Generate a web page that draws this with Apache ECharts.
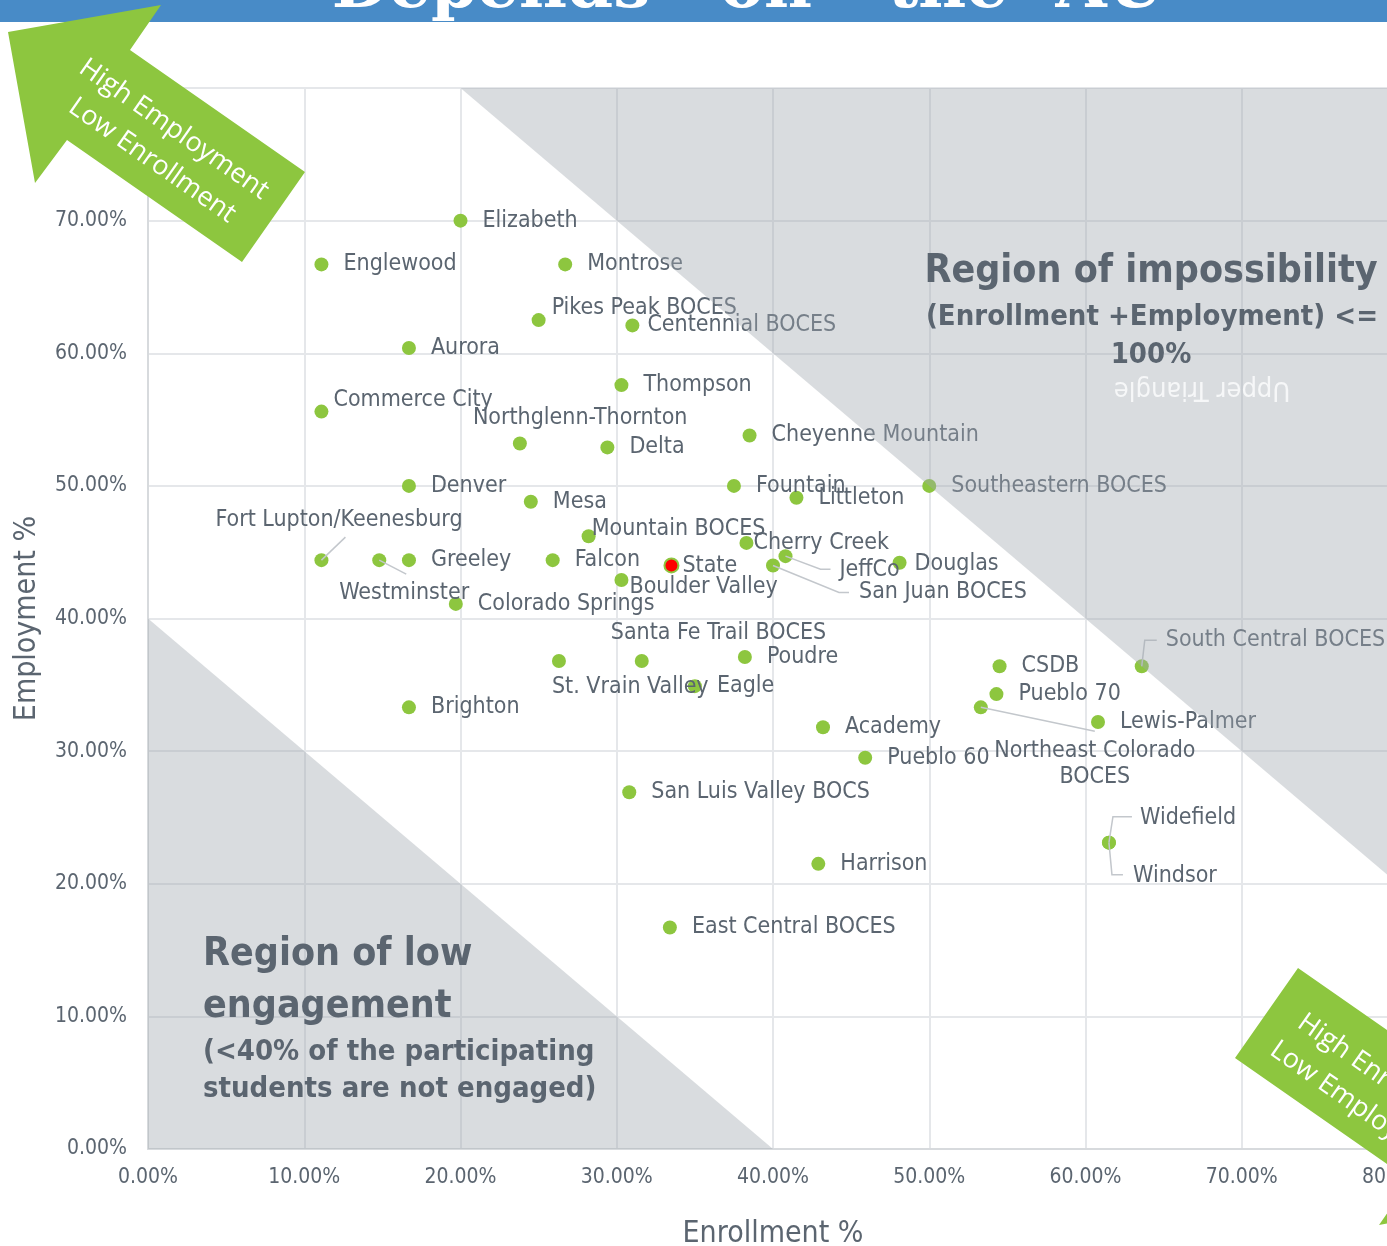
<!DOCTYPE html>
<html>
<head>
<meta charset="utf-8">
<script src="https://cdn.jsdelivr.net/npm/echarts@6/dist/echarts.min.js"></script>
<style>
    html, body { margin: 0; padding: 0; background: #fff; }
    #chart { width: 1387px; height: 1246px; }
</style>
</head>
<body>
<div id="chart"></div>
<script>
// districts / AUs
var names = [
    'Elizabeth', 'Englewood', 'Montrose', 'Pikes Peak BOCES', 'Centennial BOCES',
    'Aurora', 'Thompson', 'Commerce City', 'Northglenn-Thornton', 'Delta',
    'Cheyenne Mountain', 'Denver', 'Fountain', 'Littleton', 'Southeastern BOCES',
    'Mesa', 'Mountain BOCES', 'Cherry Creek', 'Fort Lupton/Keenesburg', 'Westminster',
    'Greeley', 'Falcon', 'State', 'JeffCo', 'San Juan BOCES',
    'Douglas', 'Boulder Valley', 'Colorado Springs', 'St. Vrain Valley', 'Santa Fe Trail BOCES',
    'Eagle', 'Poudre', 'Brighton', 'Academy', 'Pueblo 60',
    'San Luis Valley BOCS', 'Harrison', 'East Central BOCES', 'CSDB', 'Pueblo 70',
    'Northeast Colorado BOCES', 'Lewis-Palmer', 'South Central BOCES', 'Widefield', 'Windsor'
];
var enrollment = [
    0.200, 0.111, 0.267, 0.250, 0.310,
    0.167, 0.303, 0.111, 0.238, 0.294,
    0.385, 0.167, 0.375, 0.415, 0.500,
    0.245, 0.282, 0.383, 0.111, 0.148,
    0.167, 0.259, 0.335, 0.408, 0.400,
    0.481, 0.303, 0.197, 0.263, 0.316,
    0.350, 0.382, 0.167, 0.432, 0.459,
    0.308, 0.429, 0.334, 0.545, 0.543,
    0.533, 0.608, 0.636, 0.615, 0.615
];
var employment = [
    0.700, 0.667, 0.667, 0.625, 0.621,
    0.604, 0.576, 0.556, 0.532, 0.529,
    0.538, 0.500, 0.500, 0.491, 0.500,
    0.488, 0.462, 0.457, 0.444, 0.444,
    0.444, 0.444, 0.440, 0.447, 0.440,
    0.442, 0.429, 0.411, 0.368, 0.368,
    0.349, 0.371, 0.333, 0.318, 0.295,
    0.269, 0.215, 0.167, 0.364, 0.343,
    0.333, 0.322, 0.364, 0.231, 0.231
];
var axisMin = 0, axisMax = 0.8, axisStep = 0.1;
var upperTriangle = [[0.2, 0.8], [0.8, 0.8], [0.8, 0.2]];
var lowerTriangle = [[0, 0], [0, 0.4], [0.4, 0]];

// label nudges from the default right-hand spot (px), and leader lines (px from the dot)
var labelOffsets = {
    'Pikes Peak BOCES': [-9, -12],
    'Centennial BOCES': [-7, 0],
    'Commerce City': [-10, -12],
    'Northglenn-Thornton': [-69, -25],
    'Mountain BOCES': [-19, -7],
    'Cherry Creek': [-15, 0],
    'Fort Lupton/Keenesburg': [-128, -40],
    'Westminster': [-62, 33],
    'State': [-12, 1],
    'JeffCo': [32, 14],
    'San Juan BOCES': [64, 27],
    'Douglas': [-7, 1],
    'Boulder Valley': [-14, 7],
    'Santa Fe Trail BOCES': [-53, -28],
    'St. Vrain Valley': [-29, 26],
    'Northeast Colorado BOCES': [92, 57, 'center'],
    'South Central BOCES': [2, -26],
    'Widefield': [9, -25],
    'Windsor': [2, 33]
};
var leaderPaths = {
    'Fort Lupton/Keenesburg': [[0, 0], [24, -23]],
    'Westminster': [[0, 0], [27, 14]],
    'JeffCo': [[0, 0], [35, 13], [45, 13]],
    'San Juan BOCES': [[0, 0], [66, 27], [76, 27]],
    'Northeast Colorado BOCES': [[0, 0], [114, 24]],
    'South Central BOCES': [[0, 0], [3, -26], [15, -26]],
    'Widefield': [[0, 0], [4, -26], [23, -26]],
    'Windsor': [[0, 0], [3, 32], [14, 32]]
};

var FONT = '"DejaVu Sans Condensed", "DejaVu Sans", sans-serif';
var TEXT = '#5b6570';
var GREEN = '#8dc63f';
var SHADE = 'rgba(160,168,175,0.4)';

var myChart = echarts.init(document.getElementById('chart'));

function triangleSeries(points) {
    return {
        type: 'custom',
        coordinateSystem: 'cartesian2d',
        silent: true,
        z: 5,
        data: [points[0]],
        renderItem: function (params, api) {
            return {
                type: 'polygon',
                shape: {points: points.map(function (p) { return api.coord(p); })},
                style: {fill: SHADE}
            };
        }
    };
}

var leaderNames = names.filter(function (n) { return leaderPaths[n]; });

var arrowLeft = [[8, 32], [161, 5], [130, 50], [305, 172], [242, 262], [67, 140], [35, 183]];
var arrowRight = arrowLeft.map(function (p) { return [1540 - p[0], 1230 - p[1]]; });

function axisCommon(name) {
    return {
        type: 'value',
        min: axisMin,
        max: axisMax,
        interval: axisStep,
        name: name,
        nameLocation: 'middle',
        nameTextStyle: {color: TEXT, fontSize: 30, fontFamily: FONT},
        axisLine: {show: true, lineStyle: {color: '#d7dadd', width: 2}},
        axisTick: {show: false},
        splitLine: {lineStyle: {color: '#e5e7ea', width: 2}},
        axisLabel: {
            color: TEXT,
            fontSize: 21,
            fontFamily: FONT,
            formatter: function (v) { return (v * 100).toFixed(2) + '%'; }
        }
    };
}

var xAxis = axisCommon('Enrollment %');
xAxis.nameGap = 70;
xAxis.axisLabel.margin = 18;
var yAxis = axisCommon('Employment %');
yAxis.nameGap = 106;
yAxis.axisLabel.margin = 21;

var option = {
    animation: false,
    backgroundColor: '#fff',
    grid: {left: 148, top: 88, width: 1250, height: 1061, containLabel: false, outerBoundsMode: 'none'},
    xAxis: xAxis,
    yAxis: yAxis,
    series: [
        {
            type: 'scatter',
            symbolSize: 14,
            z: 2,
            itemStyle: {color: GREEN, opacity: 1},
            label: {
                show: true,
                position: 'right',
                distance: 15,
                color: TEXT,
                fontSize: 23,
                lineHeight: 26,
                fontFamily: FONT,
                formatter: function (p) {
                    return p.name === 'Northeast Colorado BOCES' ? 'Northeast Colorado\nBOCES' : p.name;
                }
            },
            emphasis: {disabled: true},
            data: names.map(function (n, i) {
                var item = {name: n, value: [enrollment[i], employment[i]]};
                var off = labelOffsets[n];
                if (off) {
                    item.label = {offset: [off[0], off[1]], align: off[2] || 'left'};
                }
                if (n === 'State') {
                    item.itemStyle = {color: '#ff0000', borderColor: GREEN, borderWidth: 2};
                }
                return item;
            })
        },
        {
            type: 'custom',
            coordinateSystem: 'cartesian2d',
            silent: true,
            z: 3,
            data: leaderNames.map(function (n) {
                var i = names.indexOf(n);
                return [enrollment[i], employment[i]];
            }),
            renderItem: function (params, api) {
                var c = api.coord([api.value(0), api.value(1)]);
                var path = leaderPaths[leaderNames[params.dataIndex]];
                return {
                    type: 'polyline',
                    shape: {points: path.map(function (p) { return [c[0] + p[0], c[1] + p[1]]; })},
                    style: {stroke: '#c3c7cc', lineWidth: 1.5, fill: null}
                };
            }
        },
        triangleSeries(upperTriangle),
        triangleSeries(lowerTriangle)
    ],
    graphic: [
        {type: 'rect', z: 100, shape: {x: 0, y: 0, width: 1387, height: 22}, style: {fill: '#488bc7'}},
        {type: 'text', z: 101, x: 491, y: -10, style: {text: 'Depends', fill: '#fff', font: 'bold 66px "DejaVu Serif"', textAlign: 'center', textVerticalAlign: 'middle'}},
        {type: 'text', z: 101, x: 766, y: -10, style: {text: 'on', fill: '#fff', font: 'bold 66px "DejaVu Serif"', textAlign: 'center', textVerticalAlign: 'middle'}},
        {type: 'text', z: 101, x: 948, y: -10, style: {text: 'the', fill: '#fff', font: 'bold 66px "DejaVu Serif"', textAlign: 'center', textVerticalAlign: 'middle'}},
        {type: 'text', z: 101, x: 1110, y: -10, style: {text: 'AU', fill: '#fff', font: 'bold 66px "DejaVu Serif"', textAlign: 'center', textVerticalAlign: 'middle'}},

        {type: 'polygon', z: 102, shape: {points: arrowLeft}, style: {fill: GREEN}},
        {type: 'text', z: 103, x: 163, y: 145, rotation: -0.61,
            style: {text: 'High Employment\nLow Enrollment', fill: '#fff', font: '27px "Open Sans"', lineHeight: 38, textAlign: 'center', textVerticalAlign: 'middle'}},
        {type: 'polygon', z: 102, shape: {points: arrowRight}, style: {fill: GREEN}},
        {type: 'text', z: 103, x: 1373, y: 1094, rotation: -0.61,
            style: {text: 'High Enrollment\nLow Employment', fill: '#fff', font: '27px "Open Sans"', lineHeight: 38, textAlign: 'center', textVerticalAlign: 'middle'}},

        {type: 'text', z: 100, x: 1151, y: 272, style: {text: 'Region of impossibility', fill: TEXT, font: 'bold 39px ' + FONT, textAlign: 'center', textVerticalAlign: 'middle'}},
        {type: 'text', z: 100, x: 1152, y: 317, style: {text: '(Enrollment +Employment) <=', fill: TEXT, font: 'bold 29px ' + FONT, textAlign: 'center', textVerticalAlign: 'middle'}},
        {type: 'text', z: 100, x: 1151, y: 355, style: {text: '100%', fill: TEXT, font: 'bold 29px ' + FONT, textAlign: 'center', textVerticalAlign: 'middle'}},
        {type: 'text', z: 100, x: 1202, y: 389, rotation: Math.PI, style: {text: 'Upper Triangle', fill: '#f6f7f8', font: '27px ' + FONT, textAlign: 'center', textVerticalAlign: 'middle'}},

        {type: 'text', z: 100, x: 203, y: 955, style: {text: 'Region of low', fill: TEXT, font: 'bold 39px ' + FONT, textAlign: 'left', textVerticalAlign: 'middle'}},
        {type: 'text', z: 100, x: 203, y: 1007, style: {text: 'engagement', fill: TEXT, font: 'bold 39px ' + FONT, textAlign: 'left', textVerticalAlign: 'middle'}},
        {type: 'text', z: 100, x: 203, y: 1052, style: {text: '(<40% of the participating', fill: TEXT, font: 'bold 29px ' + FONT, textAlign: 'left', textVerticalAlign: 'middle'}},
        {type: 'text', z: 100, x: 203, y: 1089, style: {text: 'students are not engaged)', fill: TEXT, font: 'bold 29px ' + FONT, textAlign: 'left', textVerticalAlign: 'middle'}}
    ]
};
myChart.setOption(option);
</script>
</body>
</html>
